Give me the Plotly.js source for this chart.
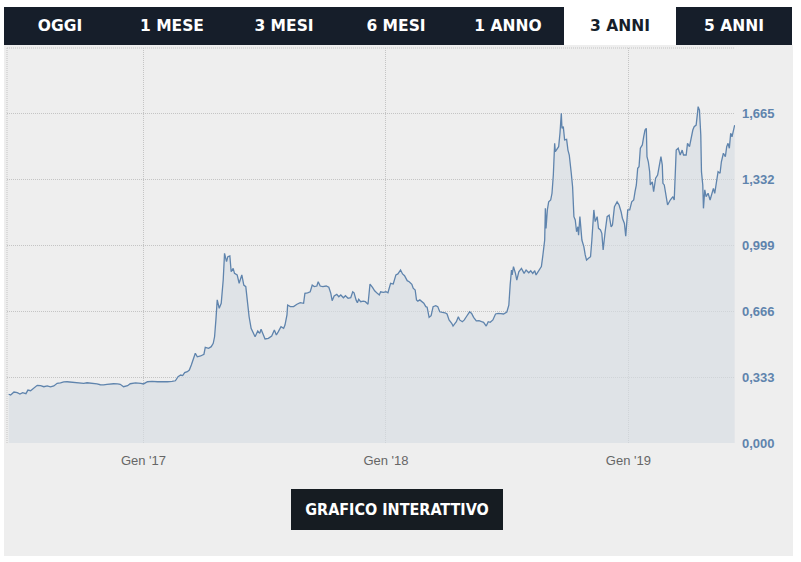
<!DOCTYPE html>
<html>
<head>
<meta charset="utf-8">
<script src="https://cdn.plot.ly/plotly-3.0.1.min.js"></script>
<style>
html,body{margin:0;padding:0;background:#ffffff;width:801px;height:562px;overflow:hidden;}
#tabs{position:absolute;left:4px;top:7px;width:788px;height:38px;background:#161e2a;}
.tab{position:absolute;top:0;height:38px;line-height:38px;text-align:center;color:#ffffff;font-family:"DejaVu Sans",Verdana,sans-serif;font-weight:bold;font-size:15.5px;}
.tab.active{background:#ffffff;color:#161e2a;}
#panel{position:absolute;left:4px;top:45px;width:789px;height:511px;background:#eeeeee;}
#chart{position:absolute;left:0;top:0;width:789px;height:440px;}
#btn{position:absolute;left:287px;top:444px;width:212px;height:41px;line-height:41px;background:#161c22;color:#ffffff;text-align:center;font-family:"DejaVu Sans Condensed","DejaVu Sans",sans-serif;font-stretch:condensed;font-weight:bold;font-size:16px;}
</style>
</head>
<body>
<div id="tabs"></div>
<div id="panel"><div id="chart"></div><div id="btn">GRAFICO INTERATTIVO</div></div>
<script>
// ---- data ----
const tabLabels = ["OGGI","1 MESE","3 MESI","6 MESI","1 ANNO","3 ANNI","5 ANNI"];
const activeTab = 5;

const dates = [
"2016-06-12","2016-06-15","2016-06-20","2016-06-25","2016-06-29","2016-07-03","2016-07-08","2016-07-11","2016-07-15","2016-07-20",
"2016-07-25","2016-07-30","2016-08-04","2016-08-09","2016-08-14","2016-08-19","2016-08-24","2016-08-29","2016-09-03","2016-09-08",
"2016-09-13","2016-09-18","2016-09-23","2016-09-28","2016-10-03","2016-10-08","2016-10-13","2016-10-18","2016-10-23","2016-10-28",
"2016-11-02","2016-11-07","2016-11-12","2016-11-17","2016-11-23","2016-11-27","2016-12-02","2016-12-08","2016-12-12","2016-12-17",
"2016-12-20","2016-12-28","2017-01-01","2017-01-07","2017-01-14","2017-01-22","2017-01-29","2017-02-06","2017-02-13","2017-02-18",
"2017-02-22","2017-02-26","2017-03-01","2017-03-04","2017-03-08","2017-03-11","2017-03-14","2017-03-15","2017-03-18","2017-03-20",
"2017-03-23","2017-03-28","2017-04-02","2017-04-04","2017-04-09","2017-04-13","2017-04-16","2017-04-18","2017-04-20","2017-04-22",
"2017-04-25","2017-04-28","2017-05-01","2017-05-03","2017-05-06","2017-05-08","2017-05-11","2017-05-13","2017-05-16","2017-05-18",
"2017-05-22","2017-05-25","2017-05-29","2017-06-01","2017-06-04","2017-06-07","2017-06-09","2017-06-12","2017-06-16","2017-06-18",
"2017-06-22","2017-06-25","2017-06-27","2017-06-30","2017-07-03","2017-07-08","2017-07-13","2017-07-17","2017-07-20","2017-07-23",
"2017-07-27","2017-07-31","2017-08-02","2017-08-05","2017-08-06","2017-08-10","2017-08-15","2017-08-20","2017-08-25","2017-08-30",
"2017-09-01","2017-09-05","2017-09-09","2017-09-12","2017-09-15","2017-09-19","2017-09-21","2017-09-24","2017-09-28","2017-10-03",
"2017-10-07","2017-10-10","2017-10-12","2017-10-15","2017-10-19","2017-10-22","2017-10-25","2017-10-29","2017-11-01","2017-11-05",
"2017-11-09","2017-11-12","2017-11-14","2017-11-17","2017-11-19","2017-11-21","2017-11-24","2017-11-28","2017-12-01","2017-12-05",
"2017-12-08","2017-12-12","2017-12-15","2017-12-19","2017-12-22","2017-12-24","2017-12-28","2018-01-01","2018-01-04","2018-01-08",
"2018-01-12","2018-01-16","2018-01-19","2018-01-23","2018-01-26","2018-01-29","2018-02-02","2018-02-05","2018-02-09","2018-02-11",
"2018-02-14","2018-02-16","2018-02-18","2018-02-21","2018-02-24","2018-02-27","2018-03-02","2018-03-04","2018-03-07","2018-03-10",
"2018-03-13","2018-03-17","2018-03-20","2018-03-23","2018-03-27","2018-03-31","2018-04-03","2018-04-06","2018-04-10","2018-04-12",
"2018-04-15","2018-04-17","2018-04-20","2018-04-22","2018-04-26","2018-04-29","2018-05-02","2018-05-05","2018-05-07","2018-05-10",
"2018-05-13","2018-05-17","2018-05-21","2018-05-25","2018-05-28","2018-06-01","2018-06-04","2018-06-07","2018-06-11","2018-06-15",
"2018-06-19","2018-06-23","2018-06-27","2018-07-02","2018-07-05","2018-07-07","2018-07-09","2018-07-10","2018-07-12","2018-07-15",
"2018-07-17","2018-07-20","2018-07-24","2018-07-28","2018-07-31","2018-08-04","2018-08-07","2018-08-10","2018-08-13","2018-08-15",
"2018-08-19","2018-08-23","2018-08-25","2018-08-28","2018-08-29","2018-08-30","2018-09-01","2018-09-03","2018-09-06","2018-09-08",
"2018-09-10","2018-09-12","2018-09-13","2018-09-16","2018-09-18","2018-09-20","2018-09-22","2018-09-23","2018-09-25","2018-09-27",
"2018-09-30","2018-10-02","2018-10-04","2018-10-07","2018-10-09","2018-10-11","2018-10-13","2018-10-15","2018-10-17","2018-10-18",
"2018-10-20","2018-10-23","2018-10-26","2018-10-28","2018-10-30","2018-11-02","2018-11-05","2018-11-07","2018-11-10","2018-11-12",
"2018-11-15","2018-11-17","2018-11-20","2018-11-22","2018-11-24","2018-11-27","2018-11-30","2018-12-03","2018-12-06","2018-12-08",
"2018-12-11","2018-12-15","2018-12-18","2018-12-21","2018-12-23","2018-12-26","2018-12-28","2018-12-31","2019-01-03","2019-01-06",
"2019-01-09","2019-01-11","2019-01-13","2019-01-15","2019-01-17","2019-01-19","2019-01-22","2019-01-24","2019-01-26","2019-01-28",
"2019-01-29","2019-01-31","2019-02-02","2019-02-03","2019-02-06","2019-02-08","2019-02-11","2019-02-14","2019-02-17","2019-02-19",
"2019-02-21","2019-02-22","2019-02-24","2019-02-27","2019-03-01","2019-03-05","2019-03-09","2019-03-11","2019-03-13","2019-03-14",
"2019-03-17","2019-03-20","2019-03-23","2019-03-25","2019-03-29","2019-03-31","2019-04-03","2019-04-05","2019-04-08","2019-04-10",
"2019-04-13","2019-04-15","2019-04-16","2019-04-18","2019-04-20","2019-04-21","2019-04-23","2019-04-24","2019-04-26","2019-04-28",
"2019-05-01","2019-05-04","2019-05-06","2019-05-09","2019-05-11","2019-05-14","2019-05-16","2019-05-19","2019-05-21","2019-05-24",
"2019-05-27","2019-05-29","2019-05-31","2019-06-02","2019-06-04","2019-06-06","2019-06-08","2019-06-10"
];

const prices = [
0.246,0.242,0.257,0.254,0.247,0.254,0.249,0.267,0.264,0.279,
0.291,0.289,0.284,0.288,0.283,0.288,0.301,0.303,0.308,0.309,
0.308,0.304,0.304,0.303,0.301,0.304,0.303,0.299,0.298,0.294,
0.293,0.296,0.298,0.299,0.298,0.296,0.284,0.289,0.299,0.301,
0.303,0.301,0.298,0.309,0.311,0.309,0.308,0.309,0.311,0.314,
0.335,0.343,0.340,0.355,0.360,0.368,0.394,0.405,0.444,0.453,
0.435,0.439,0.448,0.483,0.478,0.486,0.503,0.536,0.621,0.722,
0.680,0.705,0.822,0.957,0.915,0.940,0.944,0.864,0.881,0.856,
0.848,0.806,0.848,0.797,0.789,0.688,0.637,0.579,0.545,0.536,
0.565,0.553,0.574,0.553,0.525,0.528,0.540,0.570,0.545,0.562,
0.587,0.579,0.595,0.646,0.696,0.688,0.688,0.700,0.708,0.705,
0.755,0.758,0.763,0.797,0.789,0.792,0.814,0.792,0.789,0.792,
0.786,0.755,0.718,0.742,0.750,0.738,0.747,0.733,0.743,0.730,
0.733,0.763,0.758,0.722,0.708,0.725,0.713,0.716,0.713,0.700,
0.802,0.784,0.768,0.755,0.747,0.763,0.760,0.763,0.758,0.806,
0.802,0.848,0.853,0.873,0.853,0.844,0.819,0.814,0.801,0.781,
0.772,0.722,0.716,0.722,0.713,0.705,0.688,0.685,0.634,0.642,
0.688,0.693,0.688,0.662,0.659,0.657,0.651,0.621,0.604,0.590,
0.604,0.612,0.637,0.621,0.612,0.621,0.637,0.654,0.662,0.654,
0.634,0.616,0.617,0.612,0.609,0.590,0.612,0.609,0.621,0.651,
0.654,0.653,0.651,0.661,0.696,0.797,0.873,0.848,0.890,0.856,
0.822,0.864,0.881,0.856,0.873,0.859,0.869,0.856,0.869,0.848,
0.873,0.890,0.940,1.024,1.184,1.083,1.176,1.217,1.226,1.260,
1.352,1.512,1.470,1.487,1.495,1.563,1.663,1.588,1.596,1.529,
1.532,1.478,1.453,1.361,1.293,1.142,1.125,1.066,1.091,1.049,
1.142,1.024,0.990,0.949,0.923,0.932,0.940,1.024,1.176,1.117,
1.142,1.083,1.075,1.058,0.974,1.066,1.142,1.150,1.091,1.100,
1.192,1.217,1.201,1.167,1.134,1.108,1.044,1.176,1.176,1.217,
1.226,1.268,1.302,1.386,1.394,1.487,1.504,1.545,1.579,1.588,
1.445,1.419,1.369,1.302,1.318,1.268,1.336,1.352,1.403,1.445,
1.403,1.310,1.302,1.251,1.201,1.226,1.243,1.226,1.369,1.478,
1.487,1.453,1.478,1.453,1.453,1.512,1.495,1.537,1.579,1.596,
1.604,1.663,1.697,1.680,1.554,1.369,1.302,1.184,1.277,1.243,
1.260,1.226,1.251,1.285,1.260,1.318,1.369,1.361,1.419,1.462,
1.445,1.495,1.512,1.487,1.563,1.545,1.579,1.604
];

const yTicks = [0, 0.333, 0.666, 0.999, 1.332, 1.665];
const xTickDates = ["2017-01-01","2018-01-01","2019-01-01"];
const xTickLabels = ["Gen '17","Gen '18","Gen '19"];

// ---- tabs ----
const tabsEl = document.getElementById('tabs');
const tabW = 112;
tabLabels.forEach((t, i) => {
  const d = document.createElement('div');
  d.className = 'tab' + (i === activeTab ? ' active' : '');
  d.style.left = (i * tabW) + 'px';
  d.style.width = (i === tabLabels.length - 1 ? 788 - i * tabW : tabW) + 'px';
  d.textContent = t;
  tabsEl.appendChild(d);
});

// ---- chart ----
const trace = {
  x: dates, y: prices, type: 'scatter', mode: 'lines',
  line: {color: '#5f84ad', width: 1.3},
  fill: 'tozeroy', fillcolor: 'rgba(215,221,228,0.65)',
  hoverinfo: 'skip'
};

const gridColor = '#c4c4c4';
const gridDash = '1px,1px';
const layout = {
  width: 789, height: 440,
  margin: {l: 3, r: 58, t: 3, b: 42},
  paper_bgcolor: '#eeeeee', plot_bgcolor: '#eeeeee',
  separators: ',.',
  showlegend: false,
  xaxis: {
    type: 'date',
    range: ['2016-06-09 12:00', '2019-06-10 12:00'],
    tickvals: xTickDates, ticktext: xTickLabels,
    showgrid: true, gridcolor: gridColor, griddash: gridDash, gridwidth: 1,
    zeroline: false, showline: false, ticks: '',
    ticklabelstandoff: 8,
    tickfont: {family: 'Liberation Sans, Arial, sans-serif', size: 13, color: '#666666'}
  },
  yaxis: {
    side: 'right',
    range: [0, 1.993],
    tickvals: yTicks, tickformat: '.3f',
    showgrid: true, gridcolor: gridColor, griddash: gridDash, gridwidth: 1,
    zeroline: false, showline: false, ticks: '',
    ticklabelstandoff: 6,
    tickfont: {family: 'Liberation Sans, Arial, sans-serif', size: 13, color: '#5f84ad', weight: 'bold'}
  },
  shapes: [
    {type: 'line', xref: 'paper', yref: 'paper', x0: 0, x1: 1, y0: 1, y1: 1, line: {color: gridColor, width: 1, dash: gridDash}},
    {type: 'line', xref: 'paper', yref: 'paper', x0: 0, x1: 0, y0: 0, y1: 1, line: {color: gridColor, width: 1, dash: gridDash}}
  ]
};

Plotly.newPlot('chart', [trace], layout, {staticPlot: true, displayModeBar: false});
</script>
</body>
</html>
